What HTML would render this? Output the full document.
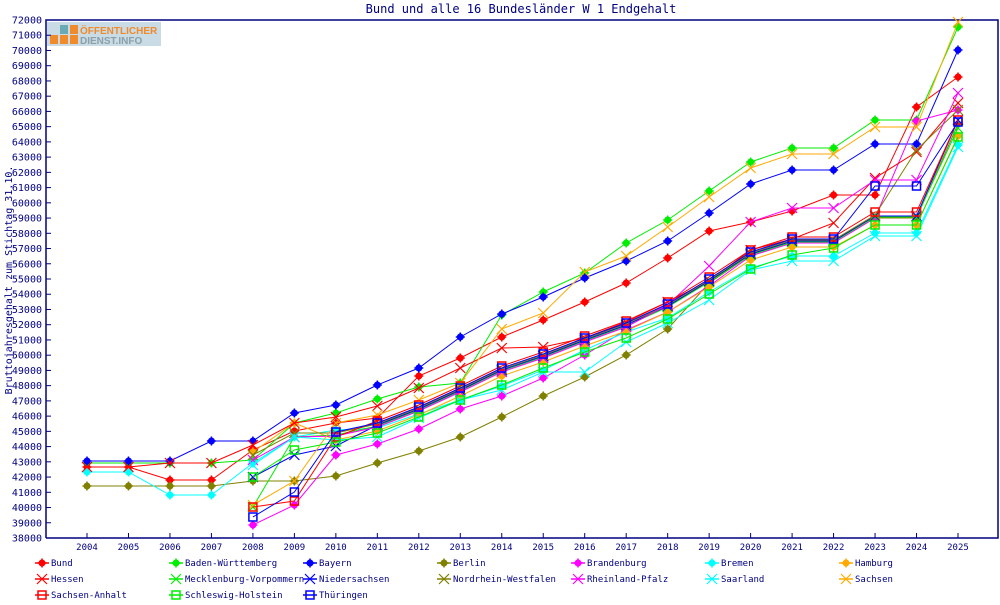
<!DOCTYPE html>
<html><head><meta charset="utf-8"><style>
body{margin:0;background:#fff;width:1000px;height:600px;overflow:hidden}
svg text{font-family:"DejaVu Sans Mono","Liberation Mono",monospace;fill:#000080}
</style></head><body>
<svg id="c" width="1000" height="600" xmlns="http://www.w3.org/2000/svg">
<rect x="0" y="0" width="1000" height="600" fill="#fff"/>
<text x="521" y="13" font-size="12" text-anchor="middle">Bund und alle 16 Bundesländer W 1 Endgehalt</text>
<text transform="translate(12,280) rotate(-90)" font-size="10" text-anchor="middle">Bruttojahresgehalt zum Stichtag 31.10.</text>
<rect x="47" y="22" width="114" height="24" fill="#c9dbe5"/>
<rect x="50" y="35" width="8" height="9" fill="#f08a2a"/><rect x="60" y="35" width="8" height="9" fill="#f08a2a"/><rect x="70" y="35" width="8" height="9" fill="#f08a2a"/>
<rect x="60" y="25" width="8" height="9" fill="#6aaab5"/><rect x="70" y="25" width="8" height="9" fill="#f08a2a"/>
<text x="80" y="34" font-size="10" font-weight="bold" style="fill:#f08a2a;font-family:'Liberation Sans',sans-serif">ÖFFENTLICHER</text>
<text x="80" y="44" font-size="10" font-weight="bold" style="fill:#8aa0aa;font-family:'Liberation Sans',sans-serif">DIENST.INFO</text>
<g id="g"></g>
</svg>
<script>
var g=document.getElementById('g'),h='';
var T=20,B=538,L=46,R=998;
function Y(v){return B-(B-T)*(v-38000)/34000}
function X(i){return 87+41.476*i}
for(var v=38000;v<=72000;v+=1000){var y=Y(v);h+='<line x1="'+L+'" x2="'+(L+5)+'" y1="'+y+'" y2="'+y+'" stroke="#000080"/>';h+='<text x="42" y="'+(y+3.5)+'" font-size="10" text-anchor="end">'+v+'</text>';}
for(var i=0;i<22;i++){var x=X(i);h+='<line x1="'+x+'" x2="'+x+'" y1="'+(B-5)+'" y2="'+B+'" stroke="#000080"/>';h+='<text x="'+x+'" y="550" font-size="9" text-anchor="middle">'+(2004+i)+'</text>';}
h+='<polyline points="'+L+','+B+' '+L+','+T+' '+R+','+T+' '+R+','+B+' '+L+','+B+'" fill="none" stroke="#000080" stroke-width="1.5"/>';
var N=null;
var bundle=[N,N,N,N,N,N,432,423,407,388,368,354,338,323,304,279,252,239,239,214,214,122];
function bd(o,arr){return arr.map(function(v,i){return v==null?(bundle[i]==null?null:bundle[i]+o):v})}
var S=[
['Bund','#ff0000','d',[467,467,480,480,450,431,423,418,376,358,337,320,302,283,258,231,222,211,195,195,107,77]],
['Baden-Württemberg','#00ee00','d',[463,463,463,463,460,423,413,399,387,383,315,292,273,243,220,191,162,148,148,120,120,27]],
['Bayern','#0000ff','d',[461,461,461,441,441,413,405,385,368,337,314,297,278,261,241,213,184,170,170,144,144,50]],
['Berlin','#808000','d',[486,486,486,486,481,481,476,463,451,437,417,396,377,355,329,283,255,241,241,218,218,124]],
['Brandenburg','#ff00ff','d',[N,N,N,N,525,505,455,444,429,409,396,378,355,330,312,286,256,243,243,218,121,110]],
['Bremen','#00ffff','d',[472,472,495,495,463,437,430,428,414,400,386,370,350,332,318,292,268,256,256,233,233,145]],
['Hamburg','#ffaa00','d',bd(8,[N,N,N,N,452,423,N,N,N,N,N,N,N,N,N,N,N,N,N,225,225,136])],
['Hessen','#ff0000','x',[467,467,463,463,445,423,417,406,388,368,348,347,338,322,302,281,250,239,223,178,152,103]],
['Mecklenburg-Vorpommern','#00ee00','x',bd(3,[N,N,N,N,507,437,N,N,N,N,N,N,N,N,N,N,N,N,N,N,N,128])],
['Niedersachsen','#0000ff','x',bd(2,[N,N,N,N,477,455,446,N,N,N,N,N,N,N,N,N,N,N,N,N,N,120])],
['Nordrhein-Westfalen','#808000','x',bd(1,[N,N,N,N,455,433,N,N,N,N,N,N,N,N,N,N,N,N,N,215,150,110])],
['Rheinland-Pfalz','#ff00ff','x',bd(4,[N,N,N,N,460,437,N,N,N,N,N,N,N,N,305,266,222,208,208,180,180,93])],
['Saarland','#00ffff','x',[N,N,N,N,465,437,440,437,418,400,390,372,372,342,323,300,270,261,261,236,236,147]],
['Sachsen','#ffaa00','x',[N,N,N,N,505,481,423,415,400,383,329,313,272,256,227,197,168,154,154,127,127,22]],
['Sachsen-Anhalt','#ff0000','s',bd(-2,[N,N,N,N,507,501,437,N,N,N,N,N,N,N,N,N,N,N,N,N,N,N])],
['Schleswig-Holstein','#00ee00','s',[N,N,N,N,477,450,442,433,417,400,385,368,352,338,319,294,269,255,248,225,225,137]],
['Thüringen','#0000ff','s',bd(0,[N,N,N,N,517,492,432,423,N,N,N,N,N,N,N,N,N,N,N,186,186,122])]
];
function mk(t,c,x,y){
 if(t=='d')return '<circle cx="'+x+'" cy="'+y+'" r="3.5" fill="'+c+'"/><path d="M'+(x-4.5)+' '+y+'h9M'+x+' '+(y-4.5)+'v9" stroke="'+c+'" stroke-width="1.5"/>';
 if(t=='x')return '<path d="M'+(x-5)+' '+(y-5)+'L'+(x+5)+' '+(y+5)+'M'+(x+5)+' '+(y-5)+'L'+(x-5)+' '+(y+5)+'" stroke="'+c+'" stroke-width="1.2"/>';
 return '<rect x="'+(x-4)+'" y="'+(y-4)+'" width="8" height="8" fill="none" stroke="'+c+'" stroke-width="1.5"/>';
}
S.forEach(function(s){var p=[];s[3].forEach(function(v,i){if(v!=null)p.push(X(i)+','+v)});
 h+='<polyline points="'+p.join(' ')+'" fill="none" stroke="'+s[1]+'" stroke-width="1"/>';
 s[3].forEach(function(v,i){if(v!=null)h+=mk(s[2],s[1],X(i),v)});});
S.forEach(function(s,k){var r=Math.floor(k/7),c=k%7,x=35+134*c,y=563+16*r;
 h+='<line x1="'+x+'" x2="'+(x+14)+'" y1="'+y+'" y2="'+y+'" stroke="'+s[1]+'" stroke-width="1.5"/>'+mk(s[2],s[1],x+7,y);
 h+='<text x="'+(x+16)+'" y="'+(y+3)+'" font-size="9">'+s[0]+'</text>';});
g.innerHTML=h;
</script>
</body></html>
